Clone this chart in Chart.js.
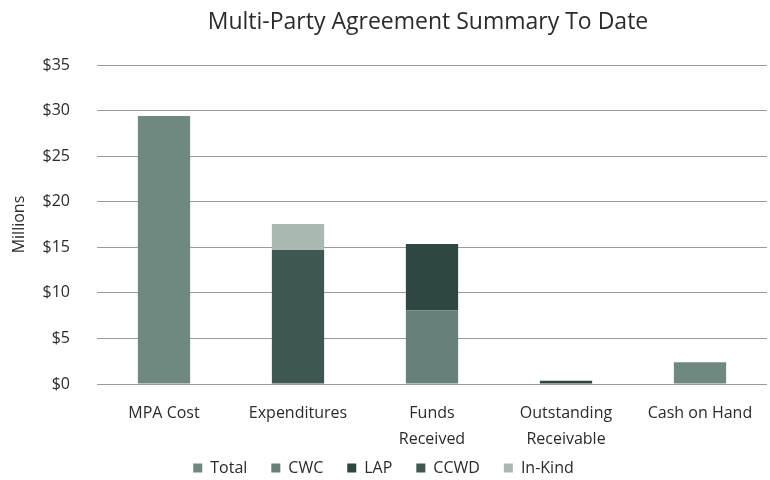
<!DOCTYPE html>
<html>
<head>
<meta charset="utf-8">
<script src="https://cdn.jsdelivr.net/npm/chart.js@4"></script>
<style>
  html, body { margin: 0; padding: 0; background: #fff; }
  #wrap { width: 770px; height: 480px; }
</style>
</head>
<body>
<div id="wrap"><canvas id="mpaChart"></canvas></div>
<script>
// ================= DATA (millions of dollars) =================
const categories = ["MPA Cost", "Expenditures", ["Funds", "Received"], ["Outstanding", "Receivable"], "Cash on Hand"];
const totalValues  = [29.4, null, null, null, 2.4];
const cwcValues    = [null, null, 8.1, null, null];
const lapValues    = [null, null, 7.25, 0.35, null];
const ccwdValues   = [null, 14.7, null, null, null];
const inKindValues = [null, 2.85, null, null, null];
const yTicks = [0, 5, 10, 15, 20, 25, 30, 35];

const FONT = "'Open Sans', Lato, sans-serif";
const TEXT = "#2b2b2b";

// title centred over the plot area, like the original sheet
const plotTitle = {
  id: "plotTitle",
  afterDraw(chart) {
    const ctx = chart.ctx;
    const area = chart.chartArea;
    ctx.save();
    ctx.font = "23px " + FONT;
    ctx.fillStyle = TEXT;
    ctx.textAlign = "center";
    ctx.textBaseline = "middle";
    ctx.fillText("Multi-Party Agreement Summary To Date", (area.left + area.right) / 2 - 4, 22);
    ctx.restore();
  }
};

function makeSet(label, data, color) {
  return {
    label,
    data,
    backgroundColor: color,
    borderWidth: 0,
    categoryPercentage: 1,
    barPercentage: 0.39,
    stack: "s"
  };
}

new Chart(document.getElementById("mpaChart"), {
  type: "bar",
  data: {
    labels: categories,
    datasets: [
      makeSet("Total", totalValues, "#6f8981"),
      makeSet("CWC", cwcValues, "#66807a"),
      makeSet("LAP", lapValues, "#2f4742"),
      makeSet("CCWD", ccwdValues, "#3e5752"),
      makeSet("In-Kind", inKindValues, "#aab8b2")
    ]
  },
  options: {
    responsive: true,
    maintainAspectRatio: false,
    animation: false,
    layout: { padding: { top: 65, right: 3, left: 0, bottom: -6 } },
    plugins: {
      title: { display: false },
      tooltip: { enabled: false },
      legend: {
        position: "bottom",
        labels: {
          font: { family: FONT, size: 16 },
          color: TEXT,
          boxWidth: 9,
          boxHeight: 9,
          padding: 24
        }
      }
    },
    scales: {
      x: {
        stacked: true,
        grid: { display: false, drawTicks: false },
        border: { display: false },
        ticks: {
          font: { family: FONT, size: 16, lineHeight: 1.65 },
          color: TEXT,
          maxRotation: 0,
          autoSkip: false,
          padding: 16
        },
        afterFit(scale) {
          scale.height = 52;
          // let the two-line labels run past the axis box instead of being cut
          scale._computeLabelArea = () => undefined;
        }
      },
      y: {
        stacked: true,
        min: 0,
        max: 35,
        afterBuildTicks(scale) { scale.ticks = yTicks.map(v => ({ value: v })); },
        grid: { color: "#9a9a9a", lineWidth: 1, drawTicks: false },
        border: { display: false },
        ticks: {
          font: { family: FONT, size: 16 },
          color: TEXT,
          padding: 27,
          callback: v => "$" + v
        },
        title: {
          display: true,
          text: "Millions",
          font: { family: FONT, size: 16 },
          color: TEXT,
          padding: { top: 10, bottom: 4 }
        },
        afterFit(scale) { scale.width = 97; }
      }
    }
  },
  plugins: [plotTitle]
});
</script>
</body>
</html>
